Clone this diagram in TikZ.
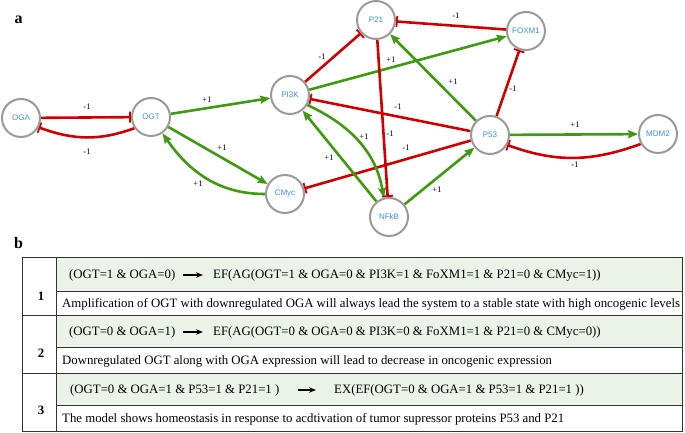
\documentclass[tikz,border=0pt]{standalone}
\usepackage{fontspec}
\setmainfont{Liberation Serif}
\newfontfamily\lblfont{Liberation Sans}
\usetikzlibrary{arrows.meta}
\definecolor{inhred}{HTML}{D10000}
\definecolor{actgreen}{HTML}{3E9A0E}
\definecolor{nodegray}{HTML}{9A9A9A}
\definecolor{nodeblue}{HTML}{3A8FEA}
\definecolor{cellgreen}{HTML}{EBF3E8}
\pgfdeclarelayer{edgelayer}
\pgfsetlayers{edgelayer,main}
\begin{document}
\begin{tikzpicture}[x=1pt,y=1pt,
  gene/.style={circle,draw=nodegray,line width=2pt,fill=white,minimum size=38pt,inner sep=0pt,
    font=\lblfont\fontsize{8}{9}\selectfont,text=nodeblue},
  act/.style={draw=actgreen,line width=2.6pt,-{Stealth[length=10pt,width=8pt,inset=1.5pt]}},
  inh/.style={draw=inhred,line width=2.6pt,-{Bar[width=11pt,line width=1.8pt]}},
  wt/.style={font=\fontsize{8.5}{10}\selectfont,inner sep=0pt},
  panel/.style={font=\bfseries\fontsize{16}{18}\selectfont,inner sep=0pt},
  cell/.style={font=\fontsize{12.8}{14}\selectfont,inner sep=0pt,anchor=west},
  num/.style={font=\bfseries\fontsize{12.8}{14}\selectfont,inner sep=0pt},
  imp/.style={line width=1.1pt,-{Stealth[length=7pt,width=5.5pt]}},
  tline/.style={line width=1pt,draw=black!80}
]
\useasboundingbox (0,0) rectangle (685,433);

% panel labels
\node[panel] (la) at (18.5,413) {a};
\node[panel] (lb) at (18.5,190) {b};

% genes
\node[gene] (OGA) at (21,315) {OGA};
\node[gene] (OGT) at (151,316) {OGT};
\node[gene] (PI3K) at (290,338) {PI3K};
\node[gene] (CMyc) at (285,239) {CMyc};
\node[gene] (P21) at (376,413) {P21};
\node[gene] (FOXM1) at (526,402) {FOXM1};
\node[gene] (P53) at (490,298) {P53};
\node[gene] (MDM2) at (658,299) {MDM2};
\node[gene] (NFkB) at (389,216) {NFkB};

% edges (drawn beneath the genes)
\begin{pgfonlayer}{edgelayer}
\path (OGA) edge[inh] (OGT);
\path (OGT.214) edge[inh, out=200, in=-20] (OGA.-28);
\path (OGT) edge[act] (PI3K);
\path (OGT) edge[act] (CMyc);
\path (CMyc.180) edge[act, out=180, in=-55] (OGT.-55);
\path (PI3K) edge[inh] (P21);
\path (PI3K) edge[act] (FOXM1);
\path (P53) edge[inh] (PI3K);
\path (P53) edge[inh] (CMyc);
\path (PI3K.-30) edge[act, out=-25, in=100] (NFkB.105);
\path (NFkB) edge[act] (PI3K);
\path (P21) edge[inh] (NFkB);
\path (NFkB) edge[act] (P53);
\path (P53) edge[act] (P21);
\path (FOXM1) edge[inh] (P21);
\path (P53) edge[inh] (FOXM1);
\path (P53) edge[act] (MDM2);
\path (MDM2.210) edge[inh, out=200, in=-20] (P53.-30);
\end{pgfonlayer}

% edge labels
\node[wt] (l1) at (87,326) {-1};
\node[wt] (l2) at (87,281) {-1};
\node[wt] (l3) at (207,333) {+1};
\node[wt] (l4) at (222,285) {+1};
\node[wt] (l5) at (198,249) {+1};
\node[wt] (l6) at (322,376) {-1};
\node[wt] (l7) at (391,373) {+1};
\node[wt] (l8) at (398,326) {-1};
\node[wt] (l9) at (406,285) {-1};
\node[wt] (l10) at (364,296) {+1};
\node[wt] (l11) at (329,275) {+1};
\node[wt] (l12) at (390,299) {-1};
\node[wt] (l13) at (437,243) {+1};
\node[wt] (l14) at (453,351) {+1};
\node[wt] (l15) at (456,417) {-1};
\node[wt] (l16) at (513,344) {-1};
\node[wt] (l17) at (575,308) {+1};
\node[wt] (l18) at (575,268) {-1};

% table
\fill[cellgreen] (56,141.5) rectangle (682,175);
\fill[cellgreen] (56,85) rectangle (682,117);
\fill[cellgreen] (56,27) rectangle (682,59.5);
\draw[tline] (22,1.5) rectangle (682,175);
\draw[tline] (56,1.5) -- (56,175);
\draw[tline] (22,117) -- (682,117);
\draw[tline] (22,59.5) -- (682,59.5);
\draw[tline] (56,141.5) -- (682,141.5);
\draw[tline] (56,85) -- (682,85);
\draw[tline] (56,27) -- (682,27);

\node[num] (n1) at (41,137) {1};
\node[num] (n2) at (41,80) {2};
\node[num] (n3) at (41,23) {3};

\node[cell] (r1a) at (69,158) {(OGT=1 \& OGA=0)};
\node[cell] (r1b) at (213,158) {EF(AG(OGT=1 \& OGA=0 \& PI3K=1 \& FoXM1=1 \& P21=0 \& CMyc=1))};
\draw[imp,shorten <=7pt,shorten >=10pt] (r1a.east) -- (r1b.west);
\node[cell] (r1c) at (62,129) {Amplification of OGT with downregulated OGA will always lead the system to a stable state with high oncogenic levels};

\node[cell] (r2a) at (69,101) {(OGT=0 \& OGA=1)};
\node[cell] (r2b) at (213,101) {EF(AG(OGT=0 \& OGA=0 \& PI3K=0 \& FoXM1=1 \& P21=0 \& CMyc=0))};
\draw[imp,shorten <=7pt,shorten >=10pt] (r2a.east) -- (r2b.west);
\node[cell] (r2c) at (62,72) {Downregulated OGT along with OGA expression will lead to decrease in oncogenic expression};

\node[cell] (r3a) at (70,43) {(OGT=0 \& OGA=1 \& P53=1 \& P21=1 )};
\node[cell] (r3b) at (334,43) {EX(EF(OGT=0 \& OGA=1 \& P53=1 \& P21=1 ))};
\draw[imp,shorten <=18pt,shorten >=18pt] (r3a.east) -- (r3b.west);
\node[cell] (r3c) at (62,14) {The model shows homeostasis in response to acdtivation of tumor supressor proteins P53 and P21};
\end{tikzpicture}
\end{document}
